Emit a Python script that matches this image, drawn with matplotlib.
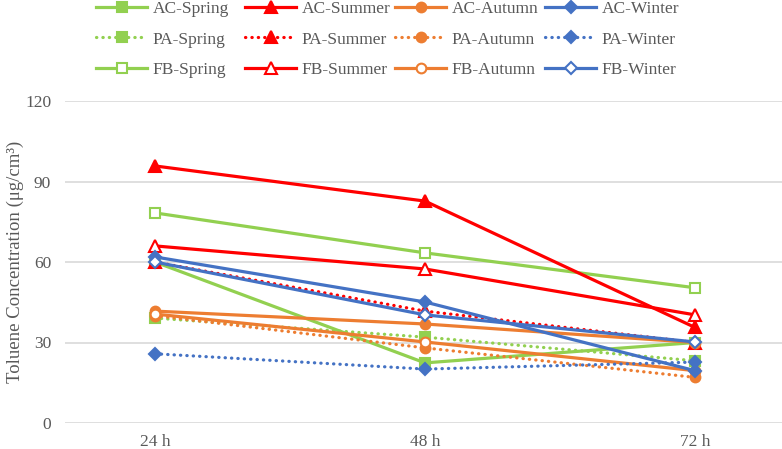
import numpy as np
import matplotlib.pyplot as plt

plt.rcParams['font.family'] = ['Liberation Serif', 'DejaVu Serif']

times = ['24 h', '48 h', '72 h']

# values (ug/cm3)
ac_spring = [60.0, 22.4, 30.0]
ac_summer = [95.8, 82.7, 35.6]
ac_autumn = [41.7, 36.9, 30.0]
ac_winter = [61.9, 45.1, 19.5]
pa_spring = [39.1, 32.0, 23.2]
pa_summer = [60.0, 41.7, 30.0]
pa_autumn = [40.0, 28.0, 17.0]
pa_winter = [25.8, 20.1, 22.7]
fb_spring = [78.3, 63.4, 50.4]
fb_summer = [66.0, 57.4, 40.3]
fb_autumn = [40.6, 30.2, 19.5]
fb_winter = [60.0, 40.3, 30.2]

green = '#92D050'
red = '#FF0000'
orange = '#ED7D31'
blue = '#4472C4'
grey = '#595959'

W, H = 782, 449
fig = plt.figure(figsize=(W/100, H/100), dpi=100)
ax = fig.add_axes([65/W, 1-423/H, 1-65/W, (423-101)/H])

x = np.arange(len(times))
lw = 2.3
dots = (0, (0.1, 1.9))

# (label, data, colour, marker, dotted, filled, marker size)
series = [
    ('AC-Spring', ac_spring, green, 's', False, True, 6.5),
    ('PA-Spring', pa_spring, green, 's', True, True, 6.5),
    ('FB-Spring', fb_spring, green, 's', False, False, 7),
    ('AC-Summer', ac_summer, red, '^', False, True, 9),
    ('PA-Summer', pa_summer, red, '^', True, True, 9),
    ('FB-Summer', fb_summer, red, '^', False, False, 9),
    ('AC-Autumn', ac_autumn, orange, 'o', False, True, 7),
    ('PA-Autumn', pa_autumn, orange, 'o', True, True, 7),
    ('FB-Autumn', fb_autumn, orange, 'o', False, False, 7),
    ('AC-Winter', ac_winter, blue, 'D', False, True, 6.5),
    ('PA-Winter', pa_winter, blue, 'D', True, True, 6.5),
    ('FB-Winter', fb_winter, blue, 'D', False, False, 6.5),
]

handles = []
for name, vals, col, mk, dotted, filled, ms in series:
    h, = ax.plot(x, vals, color=col, lw=lw, linestyle=dots if dotted else '-',
                 marker=mk, markersize=ms, markerfacecolor=col if filled else 'white',
                 markeredgecolor=col, markeredgewidth=1.5, label=name,
                 dash_capstyle='round')
    handles.append(h)

ax.set_xlim(-0.333, 2.322)
ax.set_ylim(0, 120)
ax.set_yticks([0, 30, 60, 90, 120])
ax.set_xticks(x)
ax.set_xticklabels(times)
ax.grid(axis='y', color='#D9D9D9', lw=1.2)
ax.set_axisbelow(True)
for s in ax.spines.values():
    s.set_visible(False)
ax.tick_params(length=0, labelsize=12.5, colors=grey, pad=8)
ax.tick_params(axis='y', pad=10)
fig.text(15/W, 1-262/H, 'Toluene Concentration (μg/cm³)', rotation=90,
         ha='center', va='center', fontsize=13.5, color=grey)

# one legend per season column, like the reference layout
col_x = [96, 245, 395, 545]
for i, cx in enumerate(col_x):
    leg = fig.legend(handles=handles[3*i:3*i+3], loc='upper left',
                     bbox_to_anchor=(cx/W, 1-1/H), frameon=False, fontsize=12.5,
                     handlelength=2.95, handletextpad=0.3, labelspacing=0.82,
                     borderpad=0, borderaxespad=0, labelcolor=grey)

fig.savefig('out.png', dpi=100)
